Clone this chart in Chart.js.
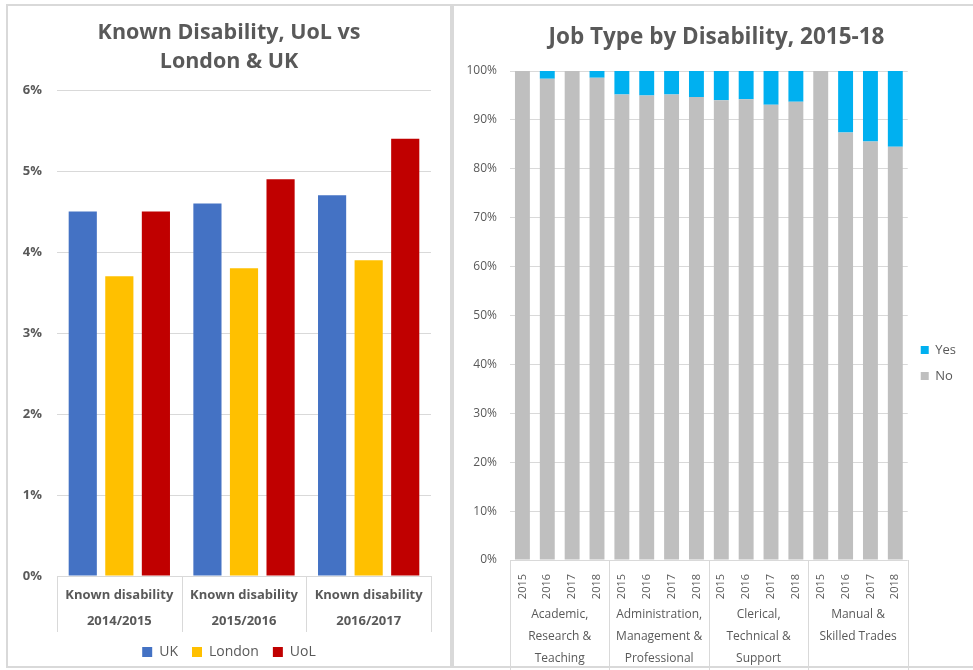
<!DOCTYPE html>
<html>
<head>
<meta charset="utf-8">
<script src="https://cdn.jsdelivr.net/npm/chart.js@4"></script>
<style>
  body { margin: 0; width: 973px; height: 670px; background: #fff; overflow: hidden; position: relative; }
  .panel { position: absolute; border: 2px solid #d9d9d9; box-sizing: border-box; }
  #leftPanel { left: 6px; top: 4px; width: 446px; height: 664px; }
  #rightPanel { left: 452px; top: 4px; width: 530px; height: 664px; }
  canvas { position: absolute; }
  #disabilityChart { left: 8px; top: 6px; }
  #jobChart { left: 454px; top: 6px; }
</style>
</head>
<body>
<div class="panel" id="leftPanel"></div>
<div class="panel" id="rightPanel"></div>
<canvas id="disabilityChart" width="442" height="660"></canvas>
<canvas id="jobChart" width="525" height="664"></canvas>
<script>
// known disability, % of staff
const periods = ['2014/2015', '2015/2016', '2016/2017'];
const measure = 'Known disability';
const ukValues = [4.5, 4.6, 4.7];
const londonValues = [3.7, 3.8, 3.9];
const uolValues = [4.5, 4.9, 5.4];

// job type by disability, % per year
const jobYears = ['2015', '2016', '2017', '2018'];
const jobTypes = [
  ['Academic,', 'Research &', 'Teaching'],
  ['Administration,', 'Management &', 'Professional'],
  ['Clerical,', 'Technical &', 'Support'],
  ['Manual &', 'Skilled Trades']
];
const noValues = [100, 98.4, 100, 98.6, 95.2, 95.0, 95.2, 94.7, 94.0, 94.2, 93.1, 93.7, 100, 87.4, 85.6, 84.5];
const yesValues = [0, 1.6, 0, 1.4, 4.8, 5.0, 4.8, 5.3, 6.0, 5.8, 6.9, 6.3, 0, 12.6, 14.4, 15.5];

Chart.defaults.font.family = "'Open Sans', sans-serif";
Chart.defaults.color = '#595959';
const gridColor = '#d9d9d9';

// empty axis used as right margin, so the title stays centred on the panel
const spacer = (w, weight) => ({
  type: 'linear',
  position: 'right',
  weight: weight,
  ticks: { display: false },
  grid: { display: false, drawTicks: false },
  border: { display: false },
  afterFit: s => { s.width = w; }
});

// vertical separators under the x axis, between category groups
const groupLines = {
  id: 'groupLines',
  afterDraw(chart, args, opts) {
    const x = chart.scales.x;
    const n = x.getLabels().length;
    const step = (x.right - x.left) / n;
    const ctx = chart.ctx;
    ctx.save();
    ctx.strokeStyle = gridColor;
    ctx.lineWidth = 1;
    for (let i = 0; i <= n; i += opts.every) {
      const px = Math.round(x.left + i * step) + 0.5;
      ctx.beginPath();
      ctx.moveTo(px, x.top);
      ctx.lineTo(px, x.top + opts.depth);
      ctx.stroke();
    }
    ctx.restore();
  }
};

new Chart(document.getElementById('disabilityChart'), {
  type: 'bar',
  data: {
    labels: periods.map(p => [measure, p]),
    datasets: [
      { label: 'UK', data: ukValues, backgroundColor: '#4472C4' },
      { label: 'London', data: londonValues, backgroundColor: '#FFC000' },
      { label: 'UoL', data: uolValues, backgroundColor: '#C00000' }
    ]
  },
  plugins: [groupLines],
  options: {
    responsive: false,
    animation: false,
    categoryPercentage: 0.88,
    barPercentage: 0.77,
    layout: { padding: { bottom: -3 } },
    plugins: {
      title: {
        display: true,
        text: ['Known Disability, UoL vs', 'London & UK'],
        color: '#595959',
        font: { size: 21.5, weight: 'bold', lineHeight: 1.35 },
        padding: { top: 12, bottom: 14 }
      },
      legend: {
        position: 'bottom',
        labels: { boxWidth: 10, boxHeight: 10, padding: 14, color: '#595959', font: { size: 14 } }
      },
      tooltip: { enabled: false },
      groupLines: { every: 1, depth: 56 }
    },
    scales: {
      x: {
        grid: { display: false, drawTicks: false },
        border: { display: false },
        ticks: { padding: 6, color: '#595959', font: { size: 13, weight: 'bold', lineHeight: 2 }, maxRotation: 0 },
        afterFit: s => { s.height = 55; }
      },
      y: {
        min: 0,
        max: 6,
        ticks: { stepSize: 1, padding: 15, color: '#595959', font: { size: 13, weight: 'bold' }, callback: v => v + '%' },
        grid: { color: gridColor, drawTicks: false },
        border: { display: false },
        afterFit: s => { s.width = 49; }
      },
      margin: spacer(19, 0)
    }
  }
});

const yearLabels = [];
jobTypes.forEach(() => jobYears.forEach(y => yearLabels.push(y)));

new Chart(document.getElementById('jobChart'), {
  type: 'bar',
  data: {
    labels: yearLabels,
    datasets: [
      { label: 'No', data: noValues, backgroundColor: '#BFBFBF' },
      { label: 'Yes', data: yesValues, backgroundColor: '#00B0F0' }
    ]
  },
  plugins: [groupLines],
  options: {
    responsive: false,
    animation: false,
    categoryPercentage: 1,
    barPercentage: 0.6,
    plugins: {
      title: {
        display: true,
        text: 'Job Type by Disability, 2015-18',
        color: '#595959',
        font: { size: 22.5, weight: 'bold', lineHeight: 1.2 },
        padding: { top: 18, bottom: 20 }
      },
      legend: {
        position: 'right',
        align: 'start',
        reverse: true,
        title: { display: true, text: '', font: { size: 12 }, padding: { top: 310, bottom: 0 } },
        labels: { boxWidth: 8, boxHeight: 8, padding: 13, color: '#595959', font: { size: 13 } }
      },
      tooltip: { enabled: false },
      groupLines: { every: 4, depth: 110 }
    },
    scales: {
      x: {
        stacked: true,
        grid: { display: false, drawTicks: false },
        border: { display: false },
        ticks: { padding: 14, minRotation: 90, maxRotation: 90, autoSkip: false, color: '#595959', font: { size: 11 } },
        afterFit: s => { s.height = 44; }
      },
      x2: {
        type: 'category',
        labels: jobTypes,
        offset: true,
        position: 'bottom',
        grid: { display: false, drawTicks: false },
        border: { display: false },
        ticks: { padding: 0, maxRotation: 0, autoSkip: false, color: '#595959', font: { size: 12, lineHeight: 1.83 } },
        afterFit: s => { s.height = 66; }
      },
      y: {
        stacked: true,
        min: 0,
        max: 100,
        ticks: { stepSize: 10, padding: 13, color: '#595959', font: { size: 12 }, callback: v => v + '%' },
        grid: { color: gridColor, drawTicks: false },
        border: { display: false },
        afterFit: s => { s.width = 56; }
      },
      margin: spacer(13, 2000)
    }
  }
});
</script>
</body>
</html>
